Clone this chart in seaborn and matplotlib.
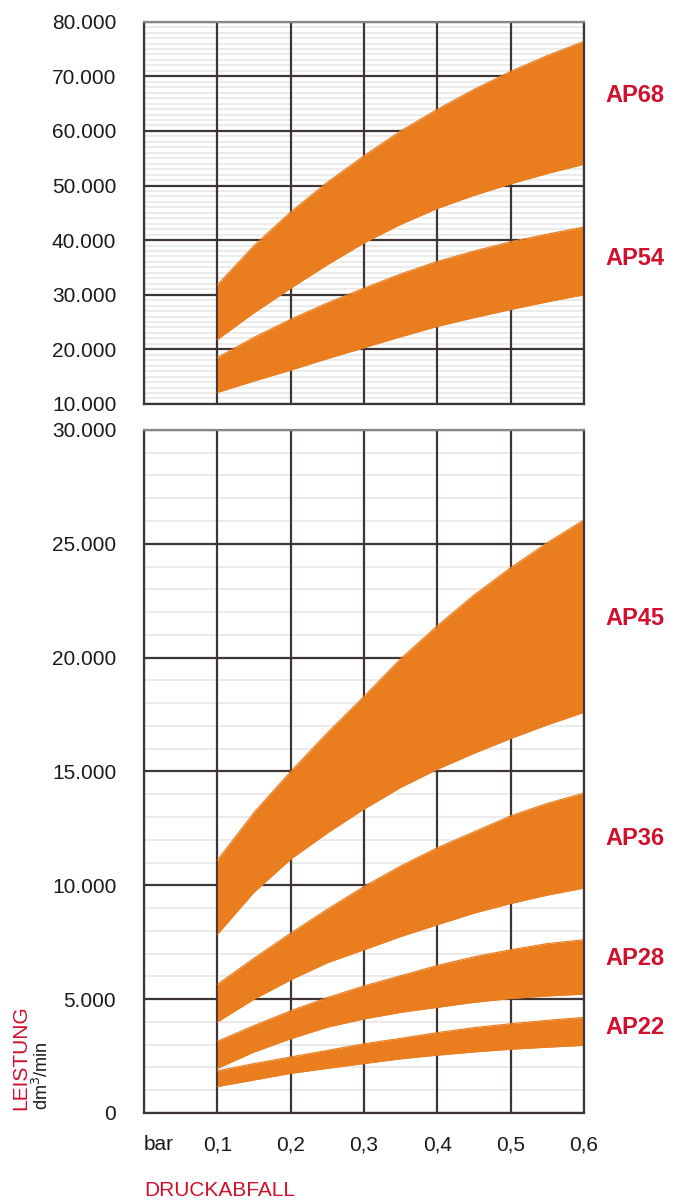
import numpy as np
import pandas as pd
import matplotlib
matplotlib.use("Agg")
import matplotlib.pyplot as plt
import matplotlib.transforms as mtransforms
from matplotlib.ticker import FuncFormatter, MultipleLocator
import seaborn as sns

# Druckabfall (bar)
druck = [0.10, 0.15, 0.20, 0.25, 0.30, 0.35, 0.40, 0.45, 0.50, 0.55, 0.60]

# Leistung dm3/min, upper / lower band edge per model
ap68_hi = [31800, 39000, 45150, 50600, 55450, 60000, 63950, 67600, 70900, 73800, 76400]
ap68_lo = [21800, 26700, 31200, 35500, 39500, 42900, 45800, 48200, 50300, 52200, 53900]
ap54_hi = [18500, 22200, 25500, 28500, 31200, 33800, 36100, 38000, 39700, 41100, 42400]
ap54_lo = [12100, 14200, 16200, 18300, 20300, 22300, 24200, 25800, 27300, 28700, 30000]
ap45_hi = [11100, 13200, 15000, 16700, 18300, 19950, 21400, 22750, 23950, 25050, 26050]
ap45_lo = [7850, 9700, 11150, 12300, 13350, 14300, 15100, 15800, 16450, 17050, 17600]
ap36_hi = [5650, 6800, 7900, 8950, 9950, 10850, 11650, 12350, 13050, 13600, 14050]
ap36_lo = [4000, 5000, 5850, 6600, 7170, 7750, 8270, 8780, 9200, 9570, 9880]
ap28_hi = [3150, 3840, 4490, 5070, 5580, 6030, 6480, 6860, 7170, 7440, 7610]
ap28_lo = [1960, 2680, 3260, 3770, 4130, 4420, 4640, 4860, 5030, 5140, 5220]
ap22_hi = [1850, 2170, 2460, 2750, 3040, 3280, 3530, 3750, 3920, 4070, 4200]
ap22_lo = [1160, 1450, 1740, 1960, 2170, 2380, 2540, 2680, 2800, 2890, 2970]

top_models = {"AP68": (ap68_lo, ap68_hi, 66400), "AP54": (ap54_lo, ap54_hi, 36700)}
bottom_models = {
    "AP45": (ap45_lo, ap45_hi, 21700),
    "AP36": (ap36_lo, ap36_hi, 12050),
    "AP28": (ap28_lo, ap28_hi, 6800),
    "AP22": (ap22_lo, ap22_hi, 3750),
}

x_labels = ["bar", "0,1", "0,2", "0,3", "0,4", "0,5", "0,6"]

ORANGE = "#ea7d1e"
RED = "#d0102c"
GRID = "#3e3636"

sns.set_theme(style="white")
plt.rcParams["font.family"] = ["Liberation Sans", "DejaVu Sans"]

fig = plt.figure(figsize=(6.81, 12.04), dpi=100)
ax_top = fig.add_axes([0.2115, 0.6645, 0.6461, 0.3175])
ax_bot = fig.add_axes([0.2115, 0.0756, 0.6461, 0.5673])


def fmt(v, pos):
    return "0" if v == 0 else f"{int(v):,}".replace(",", ".")


def draw_panel(ax, models, ylim, major, minor):
    for name, (lo, hi, label_y) in models.items():
        df = pd.DataFrame({"druck": druck, "lo": lo, "hi": hi})
        ax.fill_between(df["druck"], df["lo"], df["hi"], color=ORANGE, lw=0, zorder=3)
        sns.lineplot(data=df, x="druck", y="hi", color=ORANGE, lw=0.8, ax=ax, zorder=3)
        sns.lineplot(data=df, x="druck", y="lo", color=ORANGE, lw=0.8, ax=ax, zorder=3)
        trans = mtransforms.blended_transform_factory(ax.transAxes, ax.transData)
        ax.text(1.048, label_y, name, transform=trans, ha="left", va="center",
                color=RED, fontsize=17, fontweight="bold")
    ax.set_xlim(0, 0.6)
    ax.set_ylim(*ylim)
    # light sub-division lines, kept under the major grid
    ax.hlines(np.arange(ylim[0], ylim[1], minor), 0, 0.6, color="#ebebeb", lw=1.4, zorder=0.3)
    ax.yaxis.set_major_locator(MultipleLocator(major))
    ax.xaxis.set_major_locator(MultipleLocator(0.1))
    ax.yaxis.set_major_formatter(FuncFormatter(fmt))
    ax.set_axisbelow(True)
    ax.grid(which="major", axis="both", color=GRID, lw=1.6)
    ax.tick_params(axis="y", which="both", length=0, pad=20, labelsize=15, labelcolor="#1a1a1a")
    ax.tick_params(axis="x", which="both", length=0)
    for side, sp in ax.spines.items():
        sp.set_visible(True)
        sp.set_color(GRID)
        sp.set_linewidth(1.6)
        sp.set_zorder(4)
    ax.set_xlabel("")
    ax.set_ylabel("")


draw_panel(ax_top, top_models, (10000, 80000), 10000, 1000)
draw_panel(ax_bot, bottom_models, (0, 30000), 5000, 1000)

ax_top.set_xticklabels([])
ax_top.spines["top"].set_color("#8a8484")
ax_bot.spines["top"].set_color("#8a8484")

ax_bot.set_xticks([0, 0.1, 0.2, 0.3, 0.4, 0.5, 0.6])
ax_bot.set_xticklabels(x_labels)
ax_bot.tick_params(axis="x", pad=16, labelsize=15, labelcolor="#1a1a1a")
ax_bot.get_xticklabels()[0].set_ha("left")

fig.text(0.2115, 0.003, "DRUCKABFALL", color=RED, fontsize=15, ha="left", va="bottom")
fig.text(0.031, 0.078, "LEISTUNG", color=RED, fontsize=15, rotation=90, ha="center", va="bottom")
fig.text(0.062, 0.078, "dm$^3$/min", color="#1a1a1a", fontsize=13, rotation=90, ha="center", va="bottom")

fig.savefig("out.png", dpi=100, facecolor="white")
plt.close(fig)
